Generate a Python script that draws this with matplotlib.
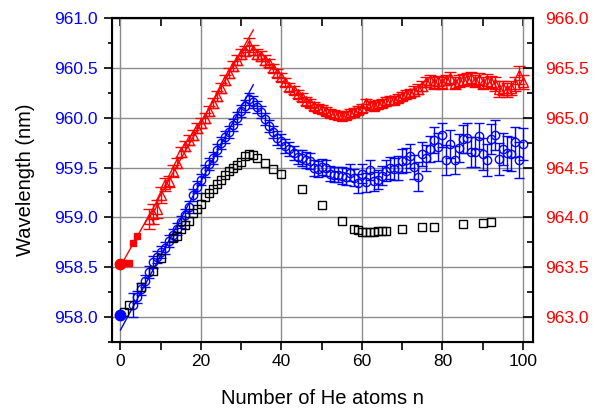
import numpy as np
import matplotlib
matplotlib.use('Agg')
import matplotlib.pyplot as plt
from matplotlib.ticker import MultipleLocator, NullFormatter

plt.rcParams['font.family'] = ['Liberation Sans', 'DejaVu Sans']

# blue circles, left axis
blue_n = list(range(3, 101))
blue_val = [958.12, 958.20, 958.28, 958.36, 958.45, 958.55, 958.60, 958.65, 958.69, 958.76,
            958.82, 958.88, 958.95, 959.02, 959.10, 959.22, 959.30, 959.38, 959.47, 959.54,
            959.60, 959.68, 959.75, 959.81, 959.86, 959.93, 960.00, 960.07, 960.12, 960.19,
            960.16, 960.11, 960.06, 959.99, 959.92, 959.86, 959.80, 959.77, 959.72, 959.69,
            959.65, 959.61, 959.60, 959.58, 959.57, 959.50, 959.49, 959.51, 959.50, 959.44,
            959.43, 959.43, 959.42, 959.41, 959.45, 959.40, 959.34, 959.44, 959.35, 959.48,
            959.36, 959.38, 959.42, 959.47, 959.50, 959.49, 959.50, 959.57, 959.58, 959.62,
            959.51, 959.41, 959.64, 959.60, 959.69, 959.78, 959.71, 959.83, 959.58, 959.74,
            959.58, 959.70, 959.79, 959.80, 959.66, 959.66, 959.82, 959.64, 959.58, 959.79,
            959.83, 959.59, 959.69, 959.65, 959.64, 959.76, 959.58, 959.74]
blue_err = [0.12, 0.06, 0.06, 0.06, 0.06, 0.06, 0.06, 0.06, 0.06, 0.06,
            0.06, 0.06, 0.06, 0.06, 0.06, 0.06, 0.06, 0.06, 0.06, 0.06,
            0.06, 0.06, 0.06, 0.06, 0.06, 0.06, 0.06, 0.06, 0.06, 0.06,
            0.06, 0.06, 0.06, 0.06, 0.06, 0.06, 0.07, 0.07, 0.07, 0.07,
            0.07, 0.07, 0.08, 0.08, 0.08, 0.08, 0.08, 0.08, 0.08, 0.08,
            0.08, 0.08, 0.09, 0.09, 0.09, 0.09, 0.10, 0.10, 0.10, 0.10,
            0.10, 0.10, 0.10, 0.11, 0.11, 0.11, 0.12, 0.12, 0.12, 0.12,
            0.12, 0.15, 0.12, 0.13, 0.13, 0.13, 0.14, 0.12, 0.15, 0.14,
            0.14, 0.14, 0.14, 0.15, 0.15, 0.15, 0.13, 0.16, 0.16, 0.15,
            0.15, 0.16, 0.16, 0.17, 0.17, 0.15, 0.18, 0.16]

# black squares, left axis
sq_n = [1, 2, 5, 8, 10, 13, 14, 15, 16, 17, 18, 19, 20, 21, 22, 23, 24, 25, 26, 27,
        28, 29, 30, 31, 32, 33, 34, 36, 38, 40, 45, 50, 55, 58, 59, 60, 61, 62, 63, 64,
        65, 66, 70, 75, 78, 85, 90, 92]
sq_val = [958.05, 958.12, 958.30, 958.46, 958.59, 958.79, 958.81, 958.88, 958.92, 958.96,
          959.04, 959.08, 959.13, 959.20, 959.24, 959.28, 959.33, 959.38, 959.43, 959.47,
          959.50, 959.53, 959.56, 959.62, 959.64, 959.63, 959.60, 959.55, 959.49, 959.44,
          959.28, 959.12, 958.96, 958.88, 958.87, 958.85, 958.85, 958.85, 958.85, 958.86,
          958.86, 958.86, 958.88, 958.90, 958.90, 958.93, 958.94, 958.95]

# red triangles, right axis
red_n = list(range(7, 101))
red_val = [963.98, 964.03, 964.08, 964.22, 964.33, 964.36, 964.47, 964.55, 964.66, 964.72,
           964.78, 964.83, 964.90, 964.95, 965.00, 965.07, 965.15, 965.22, 965.30, 965.38,
           965.45, 965.52, 965.58, 965.64, 965.67, 965.73, 965.68, 965.64, 965.62, 965.58,
           965.55, 965.50, 965.45, 965.41, 965.36, 965.31, 965.28, 965.24, 965.21, 965.17,
           965.15, 965.12, 965.10, 965.09, 965.07, 965.05, 965.04, 965.03, 965.02, 965.03,
           965.05, 965.06, 965.08, 965.10, 965.15, 965.13, 965.12, 965.14, 965.15, 965.17,
           965.18, 965.18, 965.20, 965.22, 965.24, 965.25, 965.27, 965.29, 965.32, 965.36,
           965.38, 965.35, 965.37, 965.35, 965.38, 965.40, 965.35, 965.37, 965.38, 965.39,
           965.40, 965.37, 965.39, 965.35, 965.37, 965.36, 965.34, 965.29, 965.30, 965.28,
           965.30, 965.34, 965.43, 965.36]
red_err = [0.10, 0.10, 0.09, 0.08, 0.07, 0.06, 0.06, 0.05, 0.05, 0.05,
           0.05, 0.05, 0.05, 0.05, 0.05, 0.05, 0.05, 0.05, 0.05, 0.05,
           0.05, 0.05, 0.05, 0.05, 0.05, 0.07, 0.05, 0.05, 0.05, 0.05,
           0.04, 0.04, 0.04, 0.04, 0.04, 0.04, 0.04, 0.04, 0.04, 0.04,
           0.04, 0.04, 0.04, 0.04, 0.04, 0.04, 0.04, 0.04, 0.04, 0.04,
           0.04, 0.04, 0.04, 0.04, 0.04, 0.04, 0.04, 0.04, 0.04, 0.04,
           0.04, 0.04, 0.04, 0.04, 0.04, 0.04, 0.05, 0.05, 0.05, 0.05,
           0.05, 0.06, 0.05, 0.06, 0.05, 0.06, 0.06, 0.06, 0.06, 0.06,
           0.06, 0.06, 0.06, 0.06, 0.07, 0.06, 0.07, 0.08, 0.07, 0.07,
           0.07, 0.07, 0.09, 0.07]

# filled start points
blue_dot_n = [0]
blue_dot_val = [958.02]
red_dot_n = [0]
red_dot_val = [963.53]
red_sq_n = [1, 2, 3, 4]
red_sq_val = [963.54, 963.54, 963.74, 963.81]

# linear fits
fit_n = [0, 33]
blue_fit = [957.87, 960.33]
red_fit = [963.51, 965.88]

fig = plt.figure(figsize=(5.98, 4.12), dpi=100)
fig.subplots_adjust(left=112/598, right=533/598, bottom=70/412, top=394/412)
ax = fig.add_subplot(111)
ax2 = ax.twinx()

ax.grid(True, color='#8c8c8c', lw=1)
ax.set_axisbelow(True)

ax.plot(fit_n, blue_fit, color='blue', lw=1, zorder=3)
ax.errorbar(blue_n, blue_val, yerr=blue_err, fmt='o', ms=6, mfc='none', mec='blue',
            mew=1, ecolor='blue', elinewidth=1, capsize=3.5, zorder=4)
ax.plot(sq_n, sq_val, 's', ms=5.5, mfc='none', mec='black', mew=1, zorder=5)
ax.plot(blue_dot_n, blue_dot_val, 'o', ms=7.5, color='blue', zorder=6)

ax2.plot(fit_n, red_fit, color='red', lw=1, zorder=3)
ax2.errorbar(red_n, red_val, yerr=red_err, fmt='^', ms=7.5, mfc='none', mec='red',
             mew=1, ecolor='red', elinewidth=1, capsize=4, zorder=4)
ax2.plot(red_sq_n, red_sq_val, 's', ms=5, color='red', zorder=5)
ax2.plot(red_dot_n, red_dot_val, 'o', ms=7.5, color='red', zorder=6)

ax.set_xlim(-2.1, 102.5)
ax.set_ylim(957.75, 961.0)
ax2.set_ylim(962.75, 966.0)

ax.xaxis.set_major_locator(MultipleLocator(20))
ax.xaxis.set_minor_locator(MultipleLocator(10))
ax.yaxis.set_major_locator(MultipleLocator(0.5))
ax.yaxis.set_minor_locator(MultipleLocator(0.25))
ax2.yaxis.set_major_locator(MultipleLocator(0.5))
ax2.yaxis.set_minor_locator(MultipleLocator(0.25))
ax.yaxis.set_major_formatter('{x:.1f}')
ax2.yaxis.set_major_formatter('{x:.1f}')

ax.tick_params(axis='x', which='both', direction='out', top=False, labelsize=12.5,
               width=1.2, length=6, pad=3)
ax.tick_params(axis='y', which='major', direction='out', length=6, width=1.2,
               labelsize=12.5, labelcolor='blue', pad=4)
ax.tick_params(axis='y', which='minor', direction='out', length=3, width=1.2)
ax2.tick_params(axis='y', which='major', direction='in', length=7, width=1.2,
                labelsize=12.5, labelcolor='red', pad=9)
ax2.tick_params(axis='y', which='minor', direction='in', length=4, width=1.2)

# top axis: inward ticks, no labels
top = ax.secondary_xaxis('top')
top.xaxis.set_major_locator(MultipleLocator(20))
top.xaxis.set_minor_locator(MultipleLocator(10))
top.xaxis.set_major_formatter(NullFormatter())
top.tick_params(axis='x', which='both', direction='in', length=6, width=1.2)

for s in ax2.spines.values():
    s.set_linewidth(1.5)
top.spines['top'].set_linewidth(1.5)

ax.set_xlabel('Number of He atoms n', fontsize=14.5, labelpad=14)
ax.set_ylabel('Wavelength (nm)', fontsize=14.5, labelpad=14)

plt.savefig('out.png', dpi=100)
